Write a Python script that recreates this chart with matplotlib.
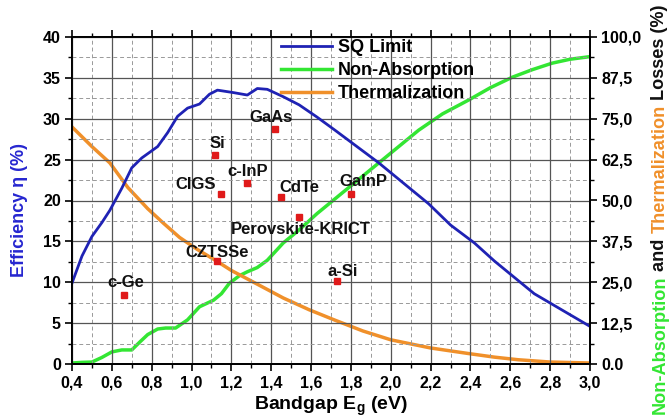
import matplotlib
matplotlib.use("Agg")
import matplotlib.pyplot as plt
from matplotlib.ticker import MultipleLocator, FixedLocator

plt.rcParams['font.family'] = ['Liberation Sans', 'DejaVu Sans']
plt.rcParams['font.weight'] = 'bold'

# ---- data ----
sq_E = [0.40, 0.45, 0.50, 0.55, 0.59, 0.65, 0.70, 0.75, 0.79, 0.83, 0.88, 0.93, 0.98,
        1.04, 1.09, 1.13, 1.21, 1.28, 1.33, 1.38, 1.46, 1.54, 1.63, 1.72, 1.83, 1.94,
        2.07, 2.19, 2.30, 2.42, 2.52, 2.62, 2.72, 2.86, 3.00]
sq_eff = [9.9, 13.2, 15.6, 17.3, 18.8, 21.5, 24.0, 25.2, 25.9, 26.6, 28.3, 30.3, 31.3,
          31.8, 33.0, 33.5, 33.2, 32.9, 33.7, 33.6, 32.7, 31.7, 30.2, 28.6, 26.6, 24.6,
          22.0, 19.6, 17.0, 14.8, 12.6, 10.6, 8.6, 6.6, 4.6]

na_E = [0.40, 0.45, 0.50, 0.55, 0.60, 0.65, 0.70, 0.74, 0.78, 0.83, 0.87, 0.92, 0.98,
        1.04, 1.11, 1.15, 1.19, 1.24, 1.28, 1.33, 1.38, 1.46, 1.54, 1.63, 1.72, 1.83,
        1.94, 2.04, 2.14, 2.26, 2.39, 2.50, 2.61, 2.71, 2.81, 2.90, 3.00]
na_loss = [0.3, 0.5, 0.6, 2.0, 3.7, 4.3, 4.3, 6.7, 9.0, 10.7, 11.0, 11.0, 13.5,
           17.5, 19.5, 21.5, 24.7, 27.0, 28.2, 29.5, 31.7, 37.0, 41.0, 46.0, 50.5, 56.0,
           61.5, 66.5, 71.5, 76.5, 80.7, 84.5, 87.7, 90.0, 92.0, 93.2, 94.0]

th_E = [0.40, 0.50, 0.59, 0.68, 0.78, 0.86, 0.94, 1.03, 1.12, 1.20, 1.29, 1.38, 1.46,
        1.59, 1.72, 1.86, 2.00, 2.20, 2.39, 2.52, 2.64, 2.80, 3.00]
th_loss = [72.5, 66.5, 61.5, 54.0, 47.5, 43.0, 38.7, 35.0, 31.7, 28.6, 25.7, 22.8, 20.2,
           16.6, 13.4, 10.1, 7.4, 4.9, 3.2, 2.1, 1.3, 0.6, 0.3]

cells = ['c-Ge', 'CZTSSe', 'Si', 'CIGS', 'c-InP', 'GaAs', 'CdTe', 'GaInP',
         'Perovskite-KRICT', 'a-Si']
cell_E = [0.66, 1.13, 1.12, 1.15, 1.28, 1.42, 1.45, 1.80, 1.54, 1.73]
cell_eff = [8.5, 12.6, 25.6, 20.8, 22.1, 28.8, 20.4, 20.8, 18.0, 10.1]

x_ticks = [0.4, 0.6, 0.8, 1.0, 1.2, 1.4, 1.6, 1.8, 2.0, 2.2, 2.4, 2.6, 2.8, 3.0]
x_ticklabels = ['0,4', '0,6', '0,8', '1,0', '1,2', '1,4', '1,6', '1,8', '2,0',
                '2,2', '2,4', '2,6', '2,8', '3,0']
y_ticks = [0, 5, 10, 15, 20, 25, 30, 35, 40]
y2_ticks = [0, 12.5, 25, 37.5, 50, 62.5, 75, 87.5, 100]
y2_ticklabels = ['0.0', '12,5', '25,0', '37,5', '50,0', '62,5', '75,0', '87,5', '100,0']

# label positions (E, eff) for text annotations
label_pos = [(0.67, 10.0), (1.13, 13.7), (1.13, 27.0), (1.02, 22.0), (1.28, 23.5),
             (1.40, 30.2), (1.54, 21.6), (1.86, 22.3), (1.55, 16.4), (1.76, 11.3)]

# ---- styling ----
BLUE = '#1f22b4'
GREEN = '#33e633'
ORANGE = '#f0902a'
RED = '#e01a1a'

fig = plt.figure(figsize=(6.7, 4.2), dpi=100)
ax = fig.add_axes([72/670, 1-364/420, (590-72)/670, (364-37)/420])
ax2 = ax.twinx()

ax.set_xlim(0.4, 3.0)
ax.set_ylim(0, 40)
ax2.set_ylim(0, 100)

ax.xaxis.set_major_locator(FixedLocator(x_ticks))
ax.set_xticklabels(x_ticklabels)
ax.xaxis.set_minor_locator(MultipleLocator(0.1))
ax.yaxis.set_major_locator(FixedLocator(y_ticks))
ax.set_yticklabels([str(v) for v in y_ticks])
ax.yaxis.set_minor_locator(MultipleLocator(2.5))
ax2.yaxis.set_major_locator(FixedLocator(y2_ticks))
ax2.set_yticklabels(y2_ticklabels)
ax2.yaxis.set_minor_locator(MultipleLocator(6.25))

ax.grid(which='major', color='#555555', lw=0.9, ls='-')
ax.grid(which='minor', color='#999999', lw=0.7, ls=(0, (4, 3)))
ax.set_axisbelow(True)

ax.tick_params(axis='both', which='major', direction='out', length=5, width=1.2,
               labelsize=11.5, top=True, pad=3)
ax.tick_params(axis='both', which='minor', direction='out', length=3, width=1, top=True)
ax2.tick_params(axis='y', which='major', direction='out', length=5, width=1.2,
                labelsize=11.5, pad=3)
ax2.tick_params(axis='y', which='minor', direction='out', length=3, width=1)
for a in (ax, ax2):
    for s in a.spines.values():
        s.set_linewidth(1.3)

l1, = ax.plot(sq_E, sq_eff, color=BLUE, lw=2.0, label='SQ Limit')
l2, = ax2.plot(na_E, na_loss, color=GREEN, lw=2.5, label='Non-Absorption')
l3, = ax2.plot(th_E, th_loss, color=ORANGE, lw=2.5, label='Thermalization')

ax.plot(cell_E, cell_eff, 's', color=RED, markersize=5, zorder=5, ls='none')
for name, (lx, ly) in zip(cells, label_pos):
    ax.text(lx, ly, name, ha='center', va='center', fontsize=12, fontweight='bold',
            color='#111111', zorder=6)

ax.set_zorder(ax2.get_zorder() + 1)
ax.patch.set_visible(False)

leg = ax.legend(handles=[l1, l2, l3], loc='upper left', bbox_to_anchor=(0.39, 1.015),
                frameon=False, fontsize=13, handlelength=2.8, handletextpad=0.35,
                labelspacing=0.32, borderaxespad=0)
for t in leg.get_texts():
    t.set_fontweight('bold')

ax.set_xlabel('Bandgap E$_\\mathregular{g}$ (eV)', fontsize=14, fontweight='bold', labelpad=3)
ax.set_ylabel('Efficiency η (%)', fontsize=13, fontweight='bold', color='#2626d0')
ax.yaxis.set_label_coords(20/670, 0.5, transform=fig.transFigure)
ax.yaxis.label.set_verticalalignment('center')

# multi-coloured right label, sized to span the figure height
fig.canvas.draw()
r = fig.canvas.get_renderer()
pieces = [('Non-Absorption', GREEN), (' and ', '#111111'), ('Thermalization', ORANGE),
          (' Losses (%)', '#111111')]
fs = 12.0
tot = 0
for s, c in pieces:
    t = fig.text(0, 0, s, rotation=90, fontsize=fs, fontweight='bold')
    tot += t.get_window_extent(r).height
    t.remove()
fs = fs * 408 / tot
y = 6 / 420
for s, c in pieces:
    t = fig.text(660/670, y, s, rotation=90, color=c, ha='center', va='bottom',
                 fontsize=fs, fontweight='bold')
    bb = t.get_window_extent(r)
    y += bb.height / fig.bbox.height

fig.savefig('out.png', dpi=100)
